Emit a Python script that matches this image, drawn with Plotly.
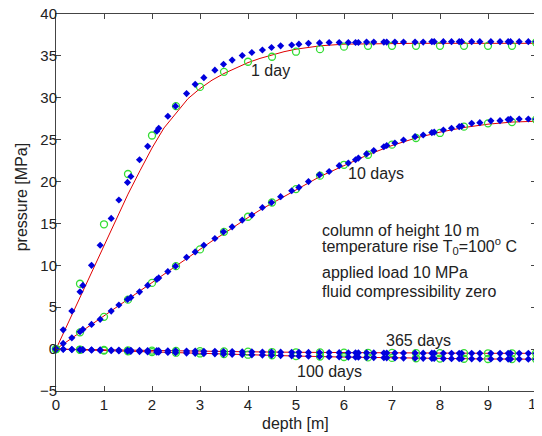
import plotly.graph_objects as go

# mesh nodes (blue diamonds)
mesh_x = [0, 0.15, 0.33, 0.5, 0.56, 0.74, 0.92, 1.15, 1.31, 1.49, 1.56, 1.74, 1.91, 2.1, 2.14,
          2.33, 2.49, 2.72, 2.9, 3.08, 3.31, 3.49, 3.67, 3.88, 4.08, 4.3, 4.49, 4.68, 4.91, 5.06,
          5.26, 5.49, 5.69, 5.9, 6.09, 6.24, 6.3, 6.47, 6.62, 6.83, 6.89, 7.06, 7.24, 7.48, 7.65,
          7.83, 7.88, 8.07, 8.24, 8.4, 8.45, 8.66, 8.83, 9.06, 9.25, 9.42, 9.47, 9.65, 9.84, 10.0]

blue_1day = [0, 2.3, 4.55, 6.85, 7.6, 10.0, 12.4, 15.6, 17.8, 19.9, 20.6, 22.6, 24.2, 26.0, 26.35,
             27.8, 29.0, 30.5, 31.6, 32.4, 33.3, 34.0, 34.5, 35.05, 35.4, 35.7, 36.0, 36.2, 36.3, 36.4,
             36.5, 36.55, 36.6, 36.6, 36.6, 36.6, 36.6, 36.65, 36.65, 36.65, 36.65, 36.65, 36.65, 36.65, 36.65,
             36.7, 36.7, 36.7, 36.7, 36.7, 36.7, 36.7, 36.7, 36.7, 36.7, 36.7, 36.7, 36.7, 36.7, 36.7]

blue_10days = [0, 0.68, 1.35, 2.07, 2.35, 2.95, 3.55, 4.54, 5.26, 5.93, 6.17, 6.84, 7.6, 8.33, 8.5,
               9.25, 9.9, 10.95, 11.6, 12.4, 13.2, 14.0, 14.6, 15.4, 16.0, 16.9, 17.5, 18.2, 18.9, 19.3,
               20.0, 20.8, 21.2, 21.9, 22.2, 22.6, 22.8, 23.3, 23.7, 24.15, 24.3, 24.6, 24.96, 25.36, 25.56,
               25.85, 25.9, 26.15, 26.36, 26.55, 26.6, 26.95, 27.03, 27.25, 27.27, 27.4, 27.45, 27.47, 27.47, 27.45]

blue_365days = [0, -0.02, -0.04, -0.05, -0.06, -0.08, -0.09, -0.11, -0.12, -0.14, -0.14, -0.16, -0.17, -0.19, -0.19,
                -0.2, -0.21, -0.23, -0.24, -0.26, -0.27, -0.28, -0.3, -0.31, -0.32, -0.34, -0.35, -0.36, -0.37, -0.38,
                -0.39, -0.4, -0.41, -0.42, -0.43, -0.43, -0.44, -0.44, -0.45, -0.46, -0.46, -0.46, -0.47, -0.47, -0.48,
                -0.48, -0.48, -0.49, -0.49, -0.49, -0.49, -0.5, -0.5, -0.5, -0.5, -0.5, -0.5, -0.5, -0.5, -0.5]

blue_100days = [0, -0.03, -0.06, -0.09, -0.1, -0.13, -0.16, -0.2, -0.23, -0.26, -0.27, -0.3, -0.33, -0.36, -0.37,
                -0.4, -0.43, -0.47, -0.5, -0.53, -0.56, -0.59, -0.62, -0.65, -0.68, -0.71, -0.74, -0.77, -0.8, -0.82,
                -0.85, -0.88, -0.9, -0.93, -0.95, -0.97, -0.97, -0.99, -1.01, -1.03, -1.04, -1.05, -1.07, -1.09, -1.1,
                -1.12, -1.12, -1.13, -1.14, -1.15, -1.15, -1.16, -1.17, -1.18, -1.18, -1.19, -1.19, -1.19, -1.2, -1.2]

# green circles (sampled every 0.5 m)
green_x = [0, 0.5, 1, 1.5, 2, 2.5, 3, 3.5, 4, 4.5, 5, 5.5, 6, 6.5, 7, 7.5, 8, 8.5, 9, 9.5, 10]
green_1day = [0, 7.8, 14.9, 20.9, 25.5, 29.0, 31.3, 33.1, 34.3, 34.9, 35.5, 35.8, 36.1, 36.2, 36.2,
              36.2, 36.2, 36.2, 36.2, 36.2, 36.6]
green_10days = [0, 2.0, 3.85, 5.9, 7.9, 9.9, 11.9, 14.0, 15.8, 17.5, 19.1, 20.7, 22.0, 23.2, 24.4,
                25.2, 25.8, 26.55, 26.95, 27.1, 27.4]
green_365days = [0, -0.05, -0.1, -0.14, -0.18, -0.21, -0.25, -0.28, -0.31, -0.35, -0.38, -0.4, -0.43, -0.44, -0.46,
                 -0.47, -0.49, -0.49, -0.5, -0.5, -0.5]
green_100days = [0, -0.09, -0.18, -0.26, -0.35, -0.43, -0.52, -0.59, -0.67, -0.74, -0.83, -0.88, -0.94, -0.99, -1.05,
                 -1.09, -1.13, -1.15, -1.18, -1.19, -1.2]

# red analytical curves
red_x = [0, 0.25, 0.5, 0.75, 1, 1.25, 1.5, 1.75, 2, 2.25, 2.5, 2.75, 3, 3.25, 3.5, 3.75, 4, 4.25, 4.5, 4.75,
         5, 5.5, 6, 6.5, 7, 7.5, 8, 8.5, 9, 9.5, 10]
red_1day = [0, 3.1, 6.3, 9.4, 12.5, 15.5, 18.5, 21.3, 24.0, 26.4, 28.2, 29.9, 31.1, 32.1, 32.9, 33.6, 34.2, 34.7,
            35.1, 35.5, 35.8, 36.2, 36.4, 36.45, 36.5, 36.5, 36.5, 36.5, 36.5, 36.5, 36.5]
red_10days = [0, 1.0, 2.0, 2.95, 3.9, 4.9, 5.9, 6.9, 7.9, 8.9, 9.9, 10.9, 11.9, 12.9, 13.8, 14.8, 15.7, 16.6,
              17.4, 18.2, 19.0, 20.6, 21.9, 23.2, 24.3, 25.2, 25.9, 26.45, 26.85, 27.1, 27.2]
red_x_coarse = [0, 1, 2, 3, 4, 5, 6, 7, 8, 9, 10]
red_365days = [0, -0.1, -0.18, -0.26, -0.32, -0.38, -0.43, -0.46, -0.49, -0.5, -0.5]
red_100days = [0, -0.18, -0.35, -0.52, -0.68, -0.83, -0.95, -1.05, -1.13, -1.18, -1.2]

curve_labels = ["1 day", "10 days", "365 days", "100 days"]
label_pos_x = [4.46, 6.67, 7.55, 5.69]
label_pos_y = [33.3, 21.0, 1.0, -2.7]

info_lines = ["column of height 10 m", "temperature rise T<sub>0</sub>=100<sup>o</sup> C",
              "applied load 10 MPa", "fluid compressibility zero"]
info_y = [14.2, 12.3, 9.1, 6.85]
info_x = 5.5

x_ticks = list(range(0, 11))
x_tick_text = [str(v) for v in x_ticks]
y_ticks = list(range(-5, 41, 5))

FONT = "Liberation Sans, Arial, sans-serif"
TXT = "#222"
fig = go.Figure()

for ry in [red_1day, red_10days]:
    fig.add_trace(go.Scatter(x=red_x, y=ry, mode="lines", line=dict(color="#e00000", width=1),
                             showlegend=False, hoverinfo="skip"))
for ry in [red_365days, red_100days]:
    fig.add_trace(go.Scatter(x=red_x_coarse, y=ry, mode="lines", line=dict(color="#e00000", width=1),
                             showlegend=False, hoverinfo="skip"))
for gy in [green_1day, green_10days, green_365days, green_100days]:
    fig.add_trace(go.Scatter(x=green_x, y=gy, mode="markers", cliponaxis=False,
                             marker=dict(symbol="circle-open", size=7, color="#33dd33", line=dict(width=1.3)),
                             showlegend=False))
for by in [blue_1day, blue_10days, blue_365days, blue_100days]:
    fig.add_trace(go.Scatter(x=mesh_x, y=by, mode="markers", cliponaxis=False,
                             marker=dict(symbol="diamond", size=5.5, color="#0000dd", line=dict(width=0)),
                             showlegend=False))

for t, lx, ly in zip(curve_labels, label_pos_x, label_pos_y):
    fig.add_annotation(x=lx, y=ly, text=t, showarrow=False, xanchor="center", yanchor="middle",
                       font=dict(family=FONT, size=16, color=TXT))
for t, ly in zip(info_lines, info_y):
    fig.add_annotation(x=info_x, y=ly, text=t, showarrow=False, xanchor="left", yanchor="middle",
                       font=dict(family=FONT, size=16, color=TXT))

# last x tick label sits past the figure edge, drawn as an annotation so it is not dropped
fig.add_annotation(x=x_ticks[-1], xref="x", yref="paper", y=0, yshift=-12, text=x_tick_text[-1],
                   showarrow=False, xanchor="center", yanchor="middle",
                   font=dict(family=FONT, size=15, color=TXT))
x_tick_text[-1] = ""

# axis titles
fig.add_annotation(xref="paper", yref="paper", x=0.498, y=-0.0875, text="depth [m]", showarrow=False,
                   xanchor="center", yanchor="middle", font=dict(family=FONT, size=16, color=TXT))
fig.add_annotation(xref="paper", yref="paper", x=-0.0719, y=0.515, text="pressure [MPa]", showarrow=False,
                   textangle=-90, xanchor="center", yanchor="middle", font=dict(family=FONT, size=16, color=TXT))

axis_common = dict(showgrid=False, zeroline=False, showline=True, linecolor="#444", linewidth=1,
                   mirror="ticks", ticks="inside", ticklen=5, tickcolor="#444", automargin=False,
                   tickfont=dict(family=FONT, size=15, color=TXT))

# page body has an 8px margin, so the figure is sized to fit inside the window
fig.update_layout(
    width=534, height=428,
    margin=dict(l=48, r=6, t=6, b=45),
    paper_bgcolor="white", plot_bgcolor="white",
    xaxis=dict(range=[0, 10], tickvals=x_ticks, ticktext=x_tick_text, ticklabeloverflow="allow", **axis_common),
    yaxis=dict(range=[-5, 40], tickvals=y_ticks, ticklabeloverflow="allow", ticklabelstandoff=-5, **axis_common),
)

fig.write_html("out.html")
